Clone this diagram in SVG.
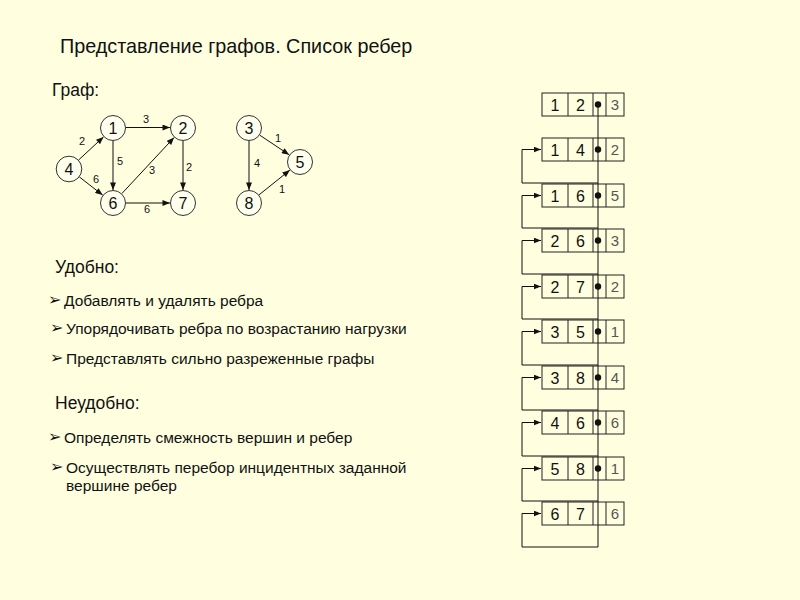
<svg xmlns="http://www.w3.org/2000/svg" width="800" height="600" viewBox="0 0 800 600">
<defs>
<style>
text{font-family:"Liberation Sans",Arial,sans-serif;fill:#111}
.title{font-size:19.8px}
.head{font-size:17.5px}
.item{font-size:15.5px}
.bul{font-family:"DejaVu Sans",sans-serif;font-size:16px}
.node circle{fill:#FFFFEE;stroke:#333;stroke-width:1}
.node text{font-size:16px;text-anchor:middle}
.edge{stroke:#111;stroke-width:1;fill:none;marker-end:url(#ah)}
.el{font-size:11px;text-anchor:middle}
.cell{fill:none;stroke:#222;stroke-width:1}
.num{font-size:16px;text-anchor:middle}
.w{font-size:15px;text-anchor:middle;fill:#555}
.lnk{stroke:#111;stroke-width:1;fill:none}
.lnka{stroke:#111;stroke-width:1;fill:none;marker-end:url(#ah2)}
</style>
<marker id="ah" viewBox="0 0 10 8" refX="10" refY="4" markerWidth="8" markerHeight="6" markerUnits="userSpaceOnUse" orient="auto">
<path d="M0,0 L10,4 L0,8 z" fill="#111"/>
</marker>
<marker id="ah2" viewBox="0 0 10 8" refX="10" refY="4" markerWidth="7" markerHeight="6" markerUnits="userSpaceOnUse" orient="auto">
<path d="M0,0 L10,4 L0,8 z" fill="#111"/>
</marker>
</defs>
<rect width="800" height="600" fill="#FFFFE0"/>
<text class="title" x="60" y="53">Представление графов. Список ребер</text>
<text class="head" x="52" y="96">Граф:</text>

<g id="edges">
<line class="edge" x1="78.5" y1="160.1" x2="103.5" y2="136.9"/>
<line class="edge" x1="79.3" y1="176.9" x2="102.7" y2="195.1"/>
<line class="edge" x1="121.9" y1="193.5" x2="174.1" y2="137.5"/>
<line class="edge" x1="126" y1="127.5" x2="170" y2="127.5"/>
<line class="edge" x1="113" y1="141" x2="113" y2="190"/>
<line class="edge" x1="183" y1="141" x2="183" y2="190"/>
<line class="edge" x1="126" y1="203" x2="170" y2="203"/>
<line class="edge" x1="259.8" y1="135.2" x2="289.2" y2="154.8"/>
<line class="edge" x1="249" y1="141" x2="249" y2="190"/>
<line class="edge" x1="259.1" y1="194.8" x2="289.9" y2="170.1"/>
<text class="el" x="146" y="123">3</text>
<text class="el" x="82" y="145">2</text>
<text class="el" x="120" y="165">5</text>
<text class="el" x="96" y="183">6</text>
<text class="el" x="152" y="174">3</text>
<text class="el" x="189" y="171">2</text>
<text class="el" x="147" y="213">6</text>
<text class="el" x="278" y="142">1</text>
<text class="el" x="257" y="167">4</text>
<text class="el" x="282" y="193">1</text>
</g>

<g id="n1" class="node"><circle cx="113" cy="128" r="12.5"/><text x="113" y="134">1</text></g>
<g id="n2" class="node"><circle cx="183" cy="128" r="12.5"/><text x="183" y="134">2</text></g>
<g id="n4" class="node"><circle cx="69" cy="169" r="12.8"/><text x="69" y="175">4</text></g>
<g id="n6" class="node"><circle cx="113" cy="203" r="12.5"/><text x="113" y="209">6</text></g>
<g id="n7" class="node"><circle cx="183" cy="203" r="12.5"/><text x="183" y="209">7</text></g>
<g id="n3" class="node"><circle cx="249" cy="128" r="12.5"/><text x="249" y="134">3</text></g>
<g id="n5" class="node"><circle cx="300" cy="162" r="12.5"/><text x="300" y="168">5</text></g>
<g id="n8" class="node"><circle cx="249" cy="203" r="12.5"/><text x="249" y="209">8</text></g>

<g id="pros">
<text class="head" x="55" y="273">Удобно:</text>
<text class="bul" x="48" y="305">➢</text><text class="item" x="64" y="306">Добавлять и удалять ребра</text>
<text class="bul" x="50" y="333">➢</text><text class="item" x="66" y="334">Упорядочивать ребра по возрастанию нагрузки</text>
<text class="bul" x="50" y="363">➢</text><text class="item" x="66" y="364">Представлять сильно разреженные графы</text>
</g>
<g id="cons">
<text class="head" x="55" y="409">Неудобно:</text>
<text class="bul" x="48" y="442">➢</text><text class="item" x="64" y="443">Определять смежность вершин и ребер</text>
<text class="bul" x="50" y="472">➢</text><text class="item" x="66" y="473">Осуществлять перебор инцидентных заданной</text>
<text class="item" x="66" y="491">вершине ребер</text>
</g>

<g id="list-links">
<line class="lnk" x1="598" y1="104.5" x2="598" y2="547"/>
<path class="lnka" d="M598,183 H522 V149.5 H541"/>
<path class="lnka" d="M598,228 H522 V195.5 H541"/>
<path class="lnka" d="M598,274 H522 V240.5 H541"/>
<path class="lnka" d="M598,319 H522 V286.5 H541"/>
<path class="lnka" d="M598,365 H522 V331.5 H541"/>
<path class="lnka" d="M598,410 H522 V377.5 H541"/>
<path class="lnka" d="M598,456 H522 V422.5 H541"/>
<path class="lnka" d="M598,501 H522 V468.5 H541"/>
<path class="lnka" d="M598,547 H522 V513.5 H541"/>
</g>

<g id="r1"><rect class="cell" x="542" y="93" width="82" height="23"/><path class="cell" d="M568,93V116M593,93V116M606,93V116"/><circle cx="598" cy="104.5" r="3.2" fill="#111"/><text class="num" x="555" y="110.5">1</text><text class="num" x="580.5" y="110.5">2</text><text class="w" x="615" y="110">3</text></g>
<g id="r2"><rect class="cell" x="542" y="138" width="82" height="23"/><path class="cell" d="M568,138V161M593,138V161M606,138V161"/><circle cx="598" cy="149.5" r="3.2" fill="#111"/><text class="num" x="555" y="155.5">1</text><text class="num" x="580.5" y="155.5">4</text><text class="w" x="615" y="155">2</text></g>
<g id="r3"><rect class="cell" x="542" y="184" width="82" height="23"/><path class="cell" d="M568,184V207M593,184V207M606,184V207"/><circle cx="598" cy="195.5" r="3.2" fill="#111"/><text class="num" x="555" y="201.5">1</text><text class="num" x="580.5" y="201.5">6</text><text class="w" x="615" y="201">5</text></g>
<g id="r4"><rect class="cell" x="542" y="229" width="82" height="23"/><path class="cell" d="M568,229V252M593,229V252M606,229V252"/><circle cx="598" cy="240.5" r="3.2" fill="#111"/><text class="num" x="555" y="246.5">2</text><text class="num" x="580.5" y="246.5">6</text><text class="w" x="615" y="246">3</text></g>
<g id="r5"><rect class="cell" x="542" y="275" width="82" height="23"/><path class="cell" d="M568,275V298M593,275V298M606,275V298"/><circle cx="598" cy="286.5" r="3.2" fill="#111"/><text class="num" x="555" y="292.5">2</text><text class="num" x="580.5" y="292.5">7</text><text class="w" x="615" y="292">2</text></g>
<g id="r6"><rect class="cell" x="542" y="320" width="82" height="23"/><path class="cell" d="M568,320V343M593,320V343M606,320V343"/><circle cx="598" cy="331.5" r="3.2" fill="#111"/><text class="num" x="555" y="337.5">3</text><text class="num" x="580.5" y="337.5">5</text><text class="w" x="615" y="337">1</text></g>
<g id="r7"><rect class="cell" x="542" y="366" width="82" height="23"/><path class="cell" d="M568,366V389M593,366V389M606,366V389"/><circle cx="598" cy="377.5" r="3.2" fill="#111"/><text class="num" x="555" y="383.5">3</text><text class="num" x="580.5" y="383.5">8</text><text class="w" x="615" y="383">4</text></g>
<g id="r8"><rect class="cell" x="542" y="411" width="82" height="23"/><path class="cell" d="M568,411V434M593,411V434M606,411V434"/><circle cx="598" cy="422.5" r="3.2" fill="#111"/><text class="num" x="555" y="428.5">4</text><text class="num" x="580.5" y="428.5">6</text><text class="w" x="615" y="428">6</text></g>
<g id="r9"><rect class="cell" x="542" y="457" width="82" height="23"/><path class="cell" d="M568,457V480M593,457V480M606,457V480"/><circle cx="598" cy="468.5" r="3.2" fill="#111"/><text class="num" x="555" y="474.5">5</text><text class="num" x="580.5" y="474.5">8</text><text class="w" x="615" y="474">1</text></g>
<g id="r10"><rect class="cell" x="542" y="502" width="82" height="23"/><path class="cell" d="M568,502V525M593,502V525M606,502V525"/><text class="num" x="555" y="519.5">6</text><text class="num" x="580.5" y="519.5">7</text><text class="w" x="615" y="519">6</text></g>
</svg>
